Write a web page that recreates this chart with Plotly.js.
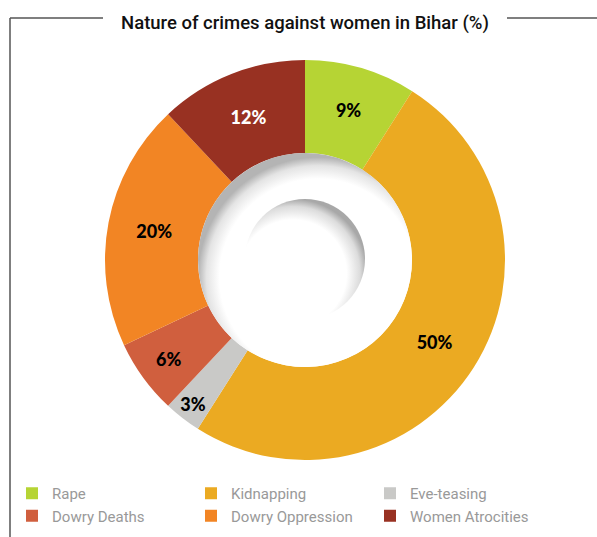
<!DOCTYPE html>
<html>
<head>
<meta charset="utf-8">
<script src="https://cdn.plot.ly/plotly-3.0.1.min.js"></script>
<style>html,body{margin:0;padding:0;background:#fff;}#chart{width:597px;height:537px;}</style>
</head>
<body>
<div id="chart"></div>
<script>
var categories = ["Rape", "Kidnapping", "Eve-teasing", "Dowry Deaths", "Dowry Oppression", "Women Atrocities"];
var shares = [9, 50, 3, 6, 20, 12];
var colors = ["#b6d434", "#ebaa22", "#c9c9c7", "#d05f3e", "#f28524", "#983122"];
var labelColors = ["#000", "#000", "#000", "#000", "#000", "#fff"];

var W = 597, H = 537;
var cx = 305, cy = 260, R = 200, hole = 0.535;
var rh = R * hole;

var svg = '<svg xmlns="http://www.w3.org/2000/svg" width="214" height="214" viewBox="0 0 214 214">' +
  '<defs>' +
  '<radialGradient id="g1" cx="0.56" cy="0.58" r="0.56">' +
  '<stop offset="0" stop-color="#ffffff"/><stop offset="0.82" stop-color="#ffffff"/>' +
  '<stop offset="0.93" stop-color="#e4e4e4"/><stop offset="1" stop-color="#b4b4b4"/></radialGradient>' +
  '<radialGradient id="g2" cx="0.4" cy="0.62" r="0.62">' +
  '<stop offset="0" stop-color="#ffffff"/><stop offset="0.72" stop-color="#ffffff"/>' +
  '<stop offset="0.9" stop-color="#dcdcdc"/><stop offset="1" stop-color="#a8a8a8"/></radialGradient>' +
  '</defs>' +
  '<circle cx="107" cy="107" r="107" fill="url(#g1)"/>' +
  '<circle cx="107" cy="106" r="60" fill="url(#g2)"/>' +
  '</svg>';
var svgUri = 'data:image/svg+xml;utf8,' + encodeURIComponent(svg);

var trace = {
  type: 'pie',
  labels: categories,
  values: shares,
  sort: false,
  direction: 'clockwise',
  rotation: 0,
  hole: hole,
  marker: {colors: colors, line: {width: 0}},
  texttemplate: '%{value}%',
  textposition: 'inside',
  insidetextorientation: 'horizontal',
  textfont: {family: 'Lato, sans-serif', size: 18, color: labelColors, weight: 900},
  domain: {x: [(cx - R) / W, (cx + R) / W], y: [1 - (cy + R) / H, 1 - (cy - R) / H]},
  hoverinfo: 'label+percent'
};

var lineColor = '#555555';
var layout = {
  width: W, height: H,
  margin: {l: 0, r: 0, t: 0, b: 0},
  paper_bgcolor: '#ffffff',
  showlegend: true,
  title: {
    text: 'Nature of crimes against women in Bihar (%)',
    font: {family: 'Roboto, sans-serif', size: 18.5, color: '#111', weight: 500},
    x: 305 / W, xanchor: 'center', y: 1 - 23 / H, yanchor: 'middle'
  },
  legend: {
    orientation: 'h',
    x: 12 / W, xanchor: 'left',
    y: 1 - 477 / H, yanchor: 'top',
    entrywidth: 134, entrywidthmode: 'pixels',
    font: {family: 'Roboto, sans-serif', size: 15, color: '#999999'},
    itemclick: false, itemdoubleclick: false,
    tracegroupgap: 0
  },
  shapes: [
    {type: 'line', xref: 'paper', yref: 'paper', x0: 10 / W, x1: 10 / W, y0: 1 - 18 / H, y1: 0, line: {color: lineColor, width: 1.5}},
    {type: 'line', xref: 'paper', yref: 'paper', x0: 10 / W, x1: 103 / W, y0: 1 - 18 / H, y1: 1 - 18 / H, line: {color: lineColor, width: 1.5}},
    {type: 'line', xref: 'paper', yref: 'paper', x0: 507 / W, x1: 1, y0: 1 - 18 / H, y1: 1 - 18 / H, line: {color: lineColor, width: 1.5}}
  ],
  images: [{
    source: svgUri,
    xref: 'paper', yref: 'paper',
    x: (cx - rh) / W, y: 1 - (cy - rh) / H,
    sizex: 2 * rh / W, sizey: 2 * rh / H,
    xanchor: 'left', yanchor: 'top',
    sizing: 'stretch', layer: 'above'
  }]
};

Plotly.newPlot('chart', [trace], layout, {displayModeBar: false, staticPlot: true});
</script>
</body>
</html>
